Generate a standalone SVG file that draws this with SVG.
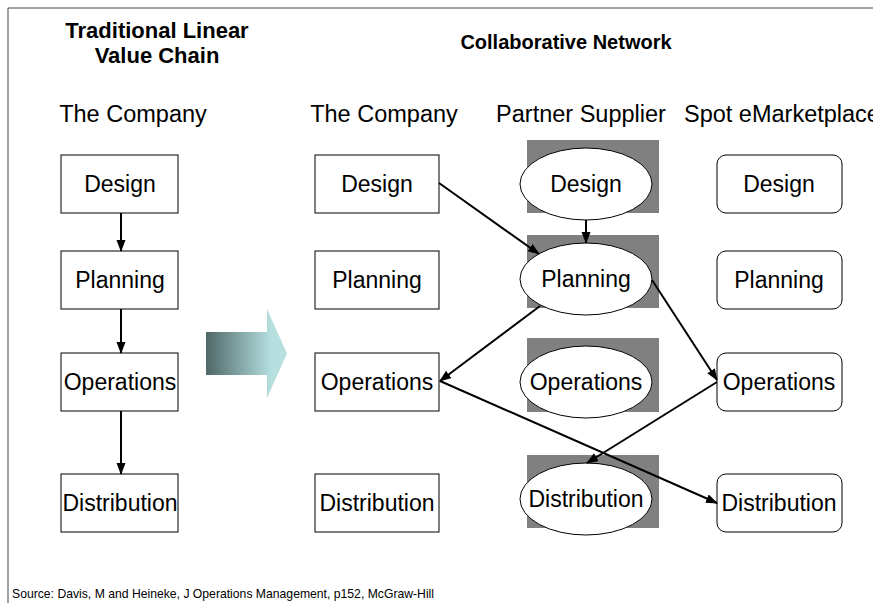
<svg xmlns="http://www.w3.org/2000/svg" width="873" height="603" viewBox="0 0 873 603">
<style>
text{font-family:"Liberation Sans",Arial,sans-serif;fill:#000}
.t{font-weight:bold;text-anchor:middle}
.h{font-size:23.5px}
.l{font-size:23px;text-anchor:middle}
.box{fill:#fff;stroke:#000;stroke-width:1}
.sh{fill:#808080}
.c{stroke:#000;stroke-width:2;fill:none;marker-end:url(#ah)}
</style>
<defs>
<marker id="ah" markerUnits="userSpaceOnUse" markerWidth="12" markerHeight="10" refX="11" refY="4.5" orient="auto">
<path d="M0,0 L12,4.5 L0,9 Z" fill="#000"/>
</marker>
<linearGradient id="g" x1="206" y1="0" x2="272" y2="0" gradientUnits="userSpaceOnUse">
<stop offset="0" stop-color="#4f6767"/>
<stop offset="1" stop-color="#b6e0e0"/>
</linearGradient>
</defs>
<rect width="873" height="603" fill="#fff"/>
<path d="M8,603 V8 H873" fill="none" stroke="#444" stroke-width="1"/>

<text class="t" x="157" y="38" style="font-size:22px">Traditional Linear</text>
<text class="t" x="157" y="63" style="font-size:22px">Value Chain</text>
<text class="t" x="566" y="49" style="font-size:20px">Collaborative Network</text>
<text class="h" x="133" y="122" text-anchor="middle">The Company</text>
<text class="h" x="384" y="122" text-anchor="middle">The Company</text>
<text class="h" x="581" y="122" text-anchor="middle">Partner Supplier</text>
<text class="h" x="684" y="122">Spot eMarketplace</text>

<path id="bigarrow" d="M206,332 H267 V309 L287,353.5 L267,398 V375 H206 Z" fill="url(#g)"/>

<g id="l-design"><rect class="box" x="61" y="155" width="117" height="58"/><text class="l" x="120" y="192">Design</text></g>
<g id="l-planning"><rect class="box" x="61" y="251" width="117" height="58"/><text class="l" x="120" y="288">Planning</text></g>
<g id="l-operations"><rect class="box" x="61" y="353" width="117" height="58"/><text class="l" x="120" y="390">Operations</text></g>
<g id="l-distribution"><rect class="box" x="61" y="474" width="117" height="58"/><text class="l" x="120" y="511">Distribution</text></g>

<g id="m-design"><rect class="box" x="315" y="155" width="124" height="58"/><text class="l" x="377" y="192">Design</text></g>
<g id="m-planning"><rect class="box" x="315" y="251" width="124" height="58"/><text class="l" x="377" y="288">Planning</text></g>
<g id="m-operations"><rect class="box" x="315" y="353" width="124" height="58"/><text class="l" x="377" y="390">Operations</text></g>
<g id="m-distribution"><rect class="box" x="315" y="474" width="124" height="58"/><text class="l" x="377" y="511">Distribution</text></g>

<g id="p-design"><rect class="sh" x="527" y="140" width="132" height="73"/><ellipse class="box" cx="586" cy="184" rx="66" ry="36"/><text class="l" x="586" y="192">Design</text></g>
<g id="p-planning"><rect class="sh" x="527" y="235" width="132" height="73"/><ellipse class="box" cx="586" cy="279" rx="66" ry="36"/><text class="l" x="586" y="287">Planning</text></g>
<g id="p-operations"><rect class="sh" x="527" y="338" width="132" height="74"/><ellipse class="box" cx="586" cy="382" rx="66" ry="36"/><text class="l" x="586" y="390">Operations</text></g>
<g id="p-distribution"><rect class="sh" x="527" y="455" width="132" height="73"/><ellipse class="box" cx="586" cy="499" rx="66" ry="36"/><text class="l" x="586" y="507">Distribution</text></g>

<g id="s-design"><rect class="box" x="717" y="155" width="125" height="58" rx="9"/><text class="l" x="779" y="192">Design</text></g>
<g id="s-planning"><rect class="box" x="717" y="251" width="125" height="58" rx="9"/><text class="l" x="779" y="288">Planning</text></g>
<g id="s-operations"><rect class="box" x="717" y="353" width="125" height="58" rx="9"/><text class="l" x="779" y="390">Operations</text></g>
<g id="s-distribution"><rect class="box" x="717" y="474" width="125" height="58" rx="9"/><text class="l" x="779" y="511">Distribution</text></g>

<g id="connectors">
<line class="c" x1="121" y1="213" x2="121" y2="251"/>
<line class="c" x1="121" y1="309" x2="121" y2="353"/>
<line class="c" x1="121" y1="411" x2="121" y2="474"/>
<line class="c" x1="439" y1="183" x2="539" y2="254"/>
<line class="c" x1="586" y1="220" x2="586" y2="243"/>
<line class="c" x1="540" y1="306" x2="440" y2="381"/>
<line class="c" x1="440" y1="381" x2="717" y2="503"/>
<line class="c" x1="652" y1="280" x2="717" y2="380"/>
<line class="c" x1="717" y1="382" x2="587" y2="463"/>
</g>

<text x="12" y="598" style="font-size:12.2px">Source: Davis, M and Heineke, J Operations Management, p152, McGraw-Hill</text>
</svg>
